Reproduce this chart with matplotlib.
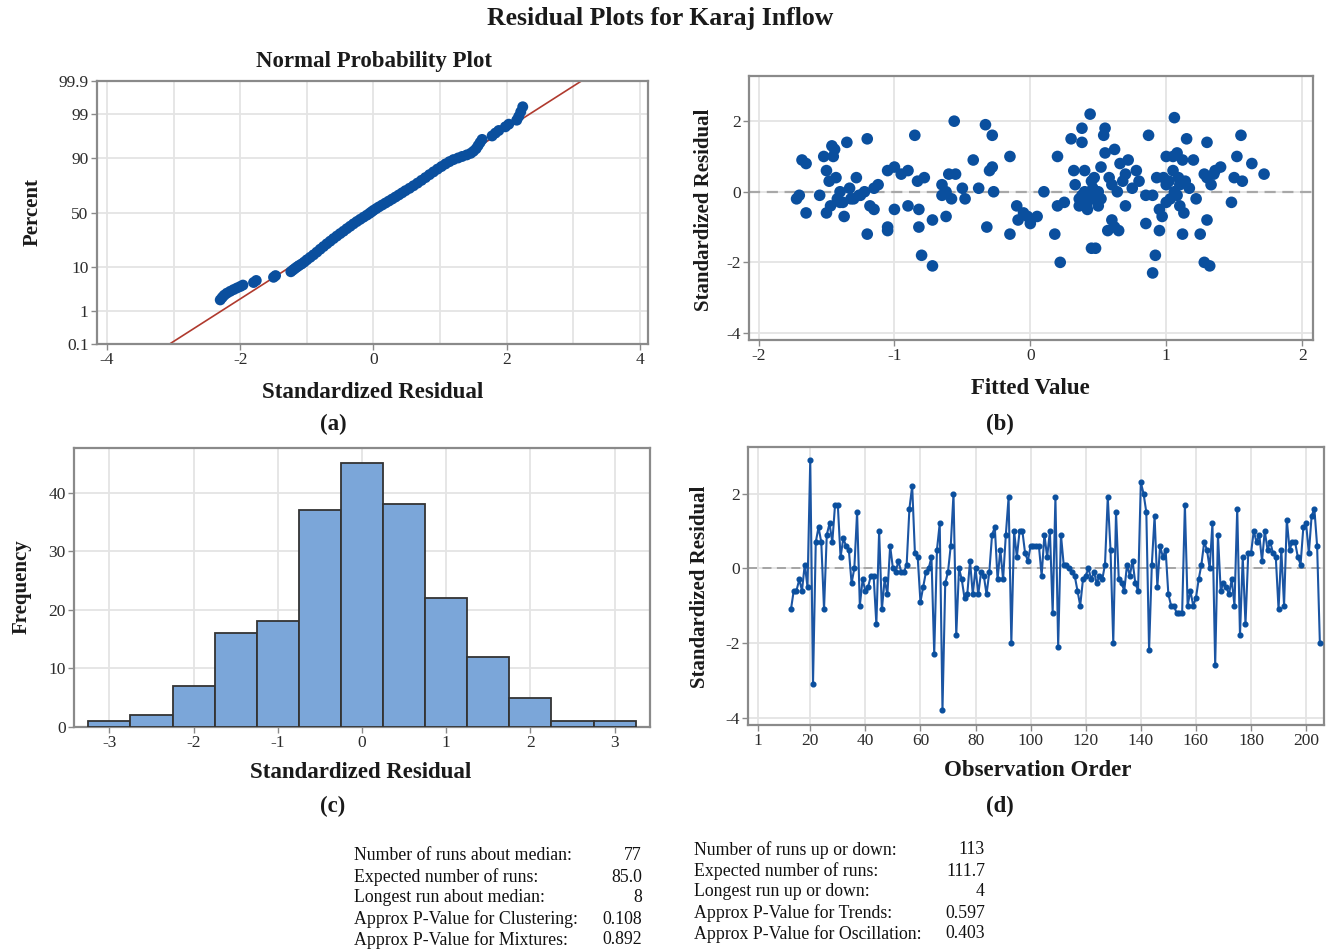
import matplotlib
matplotlib.use('Agg')
import matplotlib.pyplot as plt
import numpy as np
from statistics import NormalDist

# ---------------- data ----------------
# (a) normal probability plot: standardized residual vs percent
resid_a = [-2.30, -2.27, -2.24, -2.20, -2.15, -2.10, -2.05, -2.00, -1.96, -1.80, -1.76,
           -1.50, -1.47, -1.24, -1.21, -1.18, -1.15, -1.12, -1.08, -1.04, -1.00, -0.95,
           -0.90, -0.85, -0.80, -0.75, -0.70, -0.65, -0.60, -0.55, -0.50, -0.45, -0.40,
           -0.35, -0.30, -0.25, -0.20, -0.15, -0.10, -0.06, -0.03, 0.00, 0.04, 0.08,
           0.13, 0.18, 0.23, 0.28, 0.33, 0.38, 0.43, 0.48, 0.54, 0.60, 0.66, 0.72,
           0.78, 0.84, 0.90, 0.96, 1.02, 1.08, 1.14, 1.20, 1.27, 1.33, 1.40, 1.46,
           1.50, 1.54, 1.57, 1.60, 1.63, 1.78, 1.83, 1.88, 1.98, 2.03, 2.15, 2.18,
           2.21, 2.24]
pct_a = [2.0, 2.3, 2.6, 2.9, 3.2, 3.5, 3.8, 4.1, 4.4, 5.0, 5.5,
         6.4, 6.9, 8.2, 8.8, 9.4, 10.0, 10.6, 11.3, 12.2, 13.3, 14.6,
         16.0, 17.6, 19.4, 21.2, 23.1, 25.0, 27.0, 29.0, 31.0, 33.0, 35.2,
         37.3, 39.5, 41.6, 43.6, 45.6, 47.5, 49.2, 50.6, 52.0, 53.6, 55.2,
         57.0, 58.8, 60.6, 62.4, 64.2, 66.0, 67.8, 69.6, 71.5, 73.5, 75.5, 77.5,
         79.4, 81.3, 83.0, 84.6, 86.0, 87.3, 88.4, 89.3, 90.0, 90.6, 91.2, 91.8,
         92.5, 93.3, 94.2, 95.0, 95.7, 96.4, 96.9, 97.3, 97.8, 98.1, 98.5, 98.8,
         99.1, 99.35]
fit_mu, fit_sigma = 0.03, 1.0
pct_ticks = [0.1, 1, 10, 50, 90, 99, 99.9]
pct_ticklabels = ["0.1", "1", "10", "50", "90", "99", "99.9"]

# (b) fitted value vs standardized residual
fitted_b = [-1.72, -1.70, -1.68, -1.65, -1.65, -1.55, -1.52, -1.50, -1.50, -1.48, -1.46,
            -1.45, -1.44, -1.43, -1.42, -1.40, -1.38, -1.37, -1.35, -1.33, -1.30, -1.28,
            -1.26, -1.20, -1.20, -1.18, -1.15, -1.12, -1.05, -1.05, -1.05, -1.00, -1.00,
            -0.95, -0.90, -0.90, -0.85, -0.83, -0.82, -0.82, -0.80, -0.78, -0.72, -0.72,
            -0.65, -0.65, -0.62, -0.60, -0.56, -0.55, -0.50, -0.48, -0.42, -0.38, -0.33,
            -0.32, -0.30, -0.28, -0.28, -0.27, -0.15, -0.15, -0.10, -0.09, -0.05, -0.02,
            0.00, 0.05, 0.10, 0.18, 0.20, 0.20, 0.22, 0.25, 0.30, 0.32, 0.33, 0.38,
            0.38, 0.38, 0.40, 0.40, 0.42, 0.44, 0.45, 0.45, 0.48, 0.50, 0.52, 0.54,
            0.55, 0.55, 0.57, 0.60, 0.60, 0.62, 0.62, 0.65, 0.68, 0.70, 0.72, 0.75,
            0.78, 0.80, 0.85, 0.85, 0.87, 0.90, 0.90, 0.92, 0.93, 0.95, 0.95, 0.97,
            1.00, 1.00, 1.03, 1.05, 1.05, 1.06, 1.08, 1.10, 1.10, 1.12, 1.12, 1.13,
            1.15, 1.20, 1.22, 1.25, 1.28, 1.28, 1.30, 1.30, 1.32, 1.33, 1.36, 1.40,
            1.48, 1.50, 1.52, 1.55, 1.56, 1.63, 1.72,
            -1.47, -1.40, -1.32, -1.25, -1.22, -1.15, -0.62, -0.58, 0.36, 0.40, 0.43,
            0.46, 0.48, 0.50, 0.36, 0.42, 0.47, 0.52, 0.58, 0.64, 0.66, 0.70, 0.98,
            1.02, 1.06, 1.09, 1.14, 1.17, 1.08, 1.00, 1.30, 1.35]
resid_b = [-0.20, -0.10, 0.90, 0.80, -0.60, -0.10, 1.00, 0.60, -0.60, 0.30, 1.30,
           1.00, 1.20, 0.40, -0.20, 0.00, -0.30, -0.70, 1.40, 0.10, -0.20, 0.40,
           -0.10, 1.50, -1.20, -0.40, 0.10, 0.20, -1.00, -1.10, 0.60, -0.50, 0.70,
           0.50, 0.60, -0.40, 1.60, 0.30, -0.50, -1.00, -1.80, 0.40, -2.10, -0.80,
           0.20, -0.10, -0.70, 0.50, 2.00, 0.50, 0.10, -0.20, 0.90, 0.10, 1.90,
           -1.00, 0.60, 1.60, 0.70, 0.00, 1.00, -1.20, -0.40, -0.80, -0.60, -0.70,
           -0.90, -0.70, 0.00, -1.20, 1.00, -0.40, -2.00, -0.30, 1.50, 0.60, 0.20, 1.80,
           1.40, -0.10, 0.60, 0.00, -0.30, 2.20, 0.30, -1.60, -1.60, -0.40, 0.70, 1.60,
           1.80, 1.10, -1.10, 0.20, -0.80, 1.20, -1.00, -1.10, 0.30, -0.40, 0.90, 0.10,
           0.60, 0.30, -0.10, -0.90, 1.60, -2.30, -0.10, -1.80, 0.40, -0.50, -1.10, -0.70,
           1.00, 0.20, -0.20, 0.60, 1.00, 2.10, 1.10, -0.40, 0.20, 0.90, -1.20, -0.60,
           1.50, 0.90, -0.20, -1.20, -2.00, 0.50, 1.40, -0.80, -2.10, 0.20, 0.60, 0.70,
           -0.30, 0.40, 1.00, 1.60, 0.30, 0.80, 0.50,
           -0.40, -0.30, -0.20, -0.10, 0.00, -0.50, 0.00, -0.20, -0.20, -0.40, -0.10,
           0.10, -0.20, 0.00, -0.40, -0.50, 0.40, -0.20, 0.40, 0.00, 0.80, 0.50, 0.40,
           0.30, 0.00, 0.40, 0.30, 0.10, -0.10, -0.30, 0.40, 0.50]

# (c) histogram
bin_centers = [-3.0, -2.5, -2.0, -1.5, -1.0, -0.5, 0.0, 0.5, 1.0, 1.5, 2.0, 2.5, 3.0]
bin_counts = [1, 2, 7, 16, 18, 37, 45, 38, 22, 12, 5, 1, 1]

# (d) observation order
obs_start = 13
resid_d = [-1.1, -0.6, -0.6, -0.3, -0.6, 0.1, -0.5, 2.9, -3.1, 0.7,
           1.1, 0.7, -1.1, 0.9, 1.2, 0.7, 1.7, 1.7, 0.3, 0.8,
           0.6, 0.5, -0.4, 0.0, 1.5, -1.0, -0.3, -0.6, -0.5, -0.2,
           -0.2, -1.5, 1.0, -1.1, -0.3, -0.7, 0.6, 0.0, -0.1, 0.2,
           -0.1, -0.1, 0.1, 1.6, 2.2, 0.4, 0.3, -0.9, -0.5, -0.1,
           0.0, 0.3, -2.3, 0.5, 1.2, -3.8, -0.4, -0.1, 0.6, 2.0,
           -1.8, 0.0, -0.3, -0.8, -0.7, 0.2, -0.7, 0.0, -0.7, -0.1,
           -0.2, -0.7, -0.1, 0.9, 1.1, -0.3, 0.5, -0.3, 0.9, 1.9,
           -2.0, 1.0, 0.3, 1.0, 1.0, 0.4, 0.2, 0.6, 0.6, 0.6,
           0.6, -0.2, 0.9, 0.3, 1.0, -1.2, 1.9, -2.1, 0.9, 0.1,
           0.1, 0.0, -0.1, -0.2, -0.6, -1.0, -0.3, -0.2, 0.0, -0.3,
           -0.1, -0.4, -0.2, -0.3, 0.1, 1.9, 0.5, -2.0, 1.5, -0.3,
           -0.4, -0.6, 0.1, -0.2, 0.2, -0.4, -0.6, 2.3, 2.0, 1.5,
           -2.2, 0.1, 1.4, -0.5, 0.6, 0.3, 0.5, -0.7, -1.0, -1.0,
           -1.2, -1.2, -1.2, 1.7, -1.0, -0.6, -1.0, -0.8, -0.3, 0.1,
           0.7, 0.5, 0.0, 1.2, -2.6, 0.9, -0.6, -0.4, -0.5, -0.7,
           -0.3, -1.0, 1.6, -1.8, 0.3, -1.5, 0.4, 0.4, 1.0, 0.7,
           0.9, 0.2, 1.0, 0.5, 0.7, 0.4, 0.3, -1.1, 0.5, -1.0,
           1.3, 0.5, 0.7, 0.7, 0.3, 0.1, 1.1, 1.2, 0.4, 1.4,
           1.6, 0.6, -2.0]
obs_ticks = [1, 20, 40, 60, 80, 100, 120, 140, 160, 180, 200]

left_labels = ["Number of runs about median:", "Expected number of runs:",
               "Longest run about median:", "Approx P-Value for Clustering:",
               "Approx P-Value for Mixtures:"]
left_vals = ["77", "85.0", "8", "0.108", "0.892"]
right_labels = ["Number of runs up or down:", "Expected number of runs:",
                "Longest run up or down:", "Approx P-Value for Trends:",
                "Approx P-Value for Oscillation:"]
right_vals = ["113", "111.7", "4", "0.597", "0.403"]

# ---------------- style ----------------
plt.rcParams['font.family'] = ['Liberation Serif', 'DejaVu Serif']
plt.rcParams['axes.unicode_minus'] = False

W, H = 1330, 951
fig = plt.figure(figsize=(W / 100, H / 100), dpi=100)


def rect(l, t, r, b):
    return [l / W, 1 - b / H, (r - l) / W, (b - t) / H]


def ftext(x, y, s, **kw):
    fig.text(x / W, 1 - y / H, s, **kw)


BLUE = '#0a4f9e'
GRID = '#e4e4e4'
SPINE = '#8a8a8a'
TICKC = '#2b2b2b'


def style(ax):
    for s in ax.spines.values():
        s.set_color(SPINE)
        s.set_linewidth(1.6)
    ax.tick_params(which='major', direction='out', length=4, width=1, color=SPINE,
                   labelsize=12.5, labelcolor=TICKC, pad=2)
    ax.tick_params(which='minor', length=0)
    ax.set_axisbelow(True)
    ax.grid(True, which='both', color=GRID, lw=1.3)


nd = NormalDist()

# (a)
axA = fig.add_axes(rect(97, 81, 648, 344))
z_pts = [nd.inv_cdf(p / 100.0) for p in pct_a]
xl = np.array([-4.3, 4.3])
axA.plot(xl, (xl - fit_mu) / fit_sigma, color='#b03a2e', lw=1.2, zorder=2)
axA.scatter(resid_a, z_pts, s=62, color=BLUE, edgecolors='none', zorder=3)
zt = [nd.inv_cdf(p / 100.0) for p in pct_ticks]
axA.set_yticks(zt)
axA.set_yticklabels(pct_ticklabels)
axA.set_ylim(zt[0], zt[-1])
axA.set_xlim(-4.15, 4.12)
axA.set_xticks([-4, -2, 0, 2, 4])
axA.set_xticks([-3, -1, 1, 3], minor=True)
style(axA)

# (b)
axB = fig.add_axes(rect(749, 76, 1313, 340))
axB.axhline(0, color='#a8a8a8', lw=1.6, ls=(0, (5, 3)), zorder=2)
axB.scatter(fitted_b, resid_b, s=70, color=BLUE, edgecolors='none', zorder=3)
axB.set_xlim(-2.07, 2.08)
axB.set_ylim(-4.2, 3.28)
axB.set_xticks([-2, -1, 0, 1, 2])
axB.set_yticks([-4, -2, 0, 2])
style(axB)

# (c)
axC = fig.add_axes(rect(74, 448, 650, 727))
axC.bar(bin_centers, bin_counts, width=0.5, color='#7ba6d9', edgecolor='#333333',
        linewidth=1.3, zorder=3)
axC.set_xlim(-3.42, 3.42)
axC.set_ylim(0, 47.6)
axC.set_xticks([-3, -2, -1, 0, 1, 2, 3])
axC.set_yticks([0, 10, 20, 30, 40])
style(axC)

# (d)
axD = fig.add_axes(rect(748, 447, 1324, 725))
obs = np.arange(obs_start, obs_start + len(resid_d))
axD.axhline(0, color='#a0a0a0', lw=1.3, ls=(0, (5, 3)), zorder=2)
axD.plot(obs, resid_d, color='#1b55a3', lw=1.5, marker='o', ms=3.4,
         mfc='#0a4f9e', mec='#0a4f9e', zorder=3)
axD.set_xlim(-2.6, 206.5)
axD.set_ylim(-4.2, 3.25)
axD.set_xticks(obs_ticks)
axD.set_yticks([-4, -2, 0, 2])
style(axD)

# ---------------- texts ----------------
B = dict(weight='bold', ha='center', va='center', color='#1a1a1a')
HS, VS = 16.5, 15
ftext(660, 19, 'Residual Plots for Karaj Inflow', size=18.5, **B)
ftext(374, 62, 'Normal Probability Plot', size=16.5, **B)
ftext(33, 212, 'Percent', size=VS, rotation=90, **B)
ftext(373, 393, 'Standardized Residual', size=HS, **B)
ftext(704, 210, 'Standardized Residual', size=VS, rotation=90, **B)
ftext(1030, 389, 'Fitted Value', size=HS, **B)
ftext(22, 587, 'Frequency', size=VS, rotation=90, **B)
ftext(361, 773, 'Standardized Residual', size=HS, **B)
ftext(700, 587, 'Standardized Residual', size=VS, rotation=90, **B)
ftext(1038, 771, 'Observation Order', size=HS, **B)
for lab, x, y in [('(a)', 333, 424), ('(b)', 1000, 424), ('(c)', 333, 806), ('(d)', 1000, 806)]:
    ftext(x, y, lab, size=16.5, **B)

TS = 12.8
for i, (lab, val) in enumerate(zip(left_labels, left_vals)):
    y = 856 + i * 21
    ftext(354, y, lab, size=TS, ha='left', va='center', color='#111111')
    ftext(642, y, val, size=TS, ha='right', va='center', color='#111111')
for i, (lab, val) in enumerate(zip(right_labels, right_vals)):
    y = 850 + i * 21
    ftext(694, y, lab, size=TS, ha='left', va='center', color='#111111')
    ftext(985, y, val, size=TS, ha='right', va='center', color='#111111')

fig.savefig('out.png', dpi=100, facecolor='white')
